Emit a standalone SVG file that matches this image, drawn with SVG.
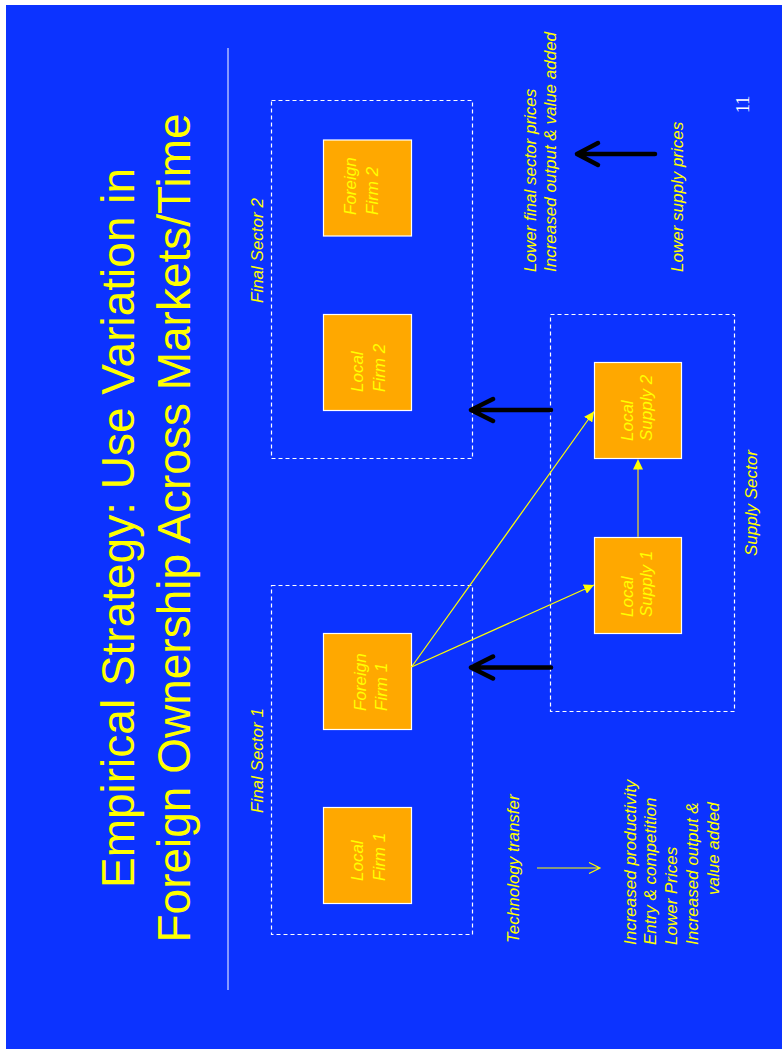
<svg xmlns="http://www.w3.org/2000/svg" width="782" height="1049" viewBox="0 0 782 1049">
<defs>
<style>
.t{font-family:"Liberation Sans",Arial,sans-serif;font-style:italic;font-size:17px;fill:#FFFF00}
.title{font-family:"Liberation Sans",Arial,sans-serif;font-size:46px;fill:#FFFF00}
.firm{fill:#FFA800;stroke:#FFFFFF;stroke-width:1.2}
.sector{fill:none;stroke:#FFFFFF;stroke-width:1.2;stroke-dasharray:4 3}
.big{fill:none;stroke:#000000;stroke-width:4.5;stroke-linecap:round;stroke-linejoin:round}
.yl{fill:none;stroke:#FFFF00;stroke-width:1.2}
</style>
<marker id="ah" viewBox="0 0 10 10" refX="10" refY="5" markerWidth="10" markerHeight="10" markerUnits="userSpaceOnUse" orient="auto">
<path d="M0,0 L10,5 L0,10 Z" fill="#FFFF00"/>
</marker>
</defs>
<rect x="0" y="0" width="782" height="1049" fill="#FFFFFF"/>
<rect x="6" y="5" width="776" height="1044" fill="#0C33FF"/>
<line x1="228" y1="48" x2="228" y2="990" stroke="#FFFFFF" stroke-width="1"/>

<g id="title">
<text class="title" text-anchor="middle" transform="translate(133.5,528) rotate(-90)">Empirical Strategy: Use Variation in</text>
<text class="title" text-anchor="middle" transform="translate(189.5,528) rotate(-90)">Foreign Ownership Across Markets/Time</text>
</g>

<g id="final-sector-2">
<rect class="sector" x="271.5" y="100.5" width="201" height="358"/>
<text class="t" transform="translate(263,303) rotate(-90)">Final Sector 2</text>
</g>
<g id="final-sector-1">
<rect class="sector" x="271.5" y="585.5" width="201" height="349"/>
<text class="t" transform="translate(263,813) rotate(-90)">Final Sector 1</text>
</g>
<g id="supply-sector">
<rect class="sector" x="550.5" y="314.5" width="184" height="397"/>
<text class="t" transform="translate(757,556) rotate(-90)">Supply Sector</text>
</g>

<g id="foreign-firm-2">
<rect class="firm" x="323.5" y="140" width="88" height="96"/>
<text class="t" transform="translate(356,215) rotate(-90)">Foreign</text>
<text class="t" transform="translate(378,215) rotate(-90)">Firm 2</text>
</g>
<g id="local-firm-2">
<rect class="firm" x="323.5" y="314.5" width="88" height="96"/>
<text class="t" transform="translate(363,392) rotate(-90)">Local</text>
<text class="t" transform="translate(385,392) rotate(-90)">Firm 2</text>
</g>
<g id="foreign-firm-1">
<rect class="firm" x="323.5" y="633.5" width="88" height="96"/>
<text class="t" transform="translate(365.5,711) rotate(-90)">Foreign</text>
<text class="t" transform="translate(386.5,711) rotate(-90)">Firm 1</text>
</g>
<g id="local-firm-1">
<rect class="firm" x="323.5" y="807.5" width="88" height="96"/>
<text class="t" transform="translate(363,881) rotate(-90)">Local</text>
<text class="t" transform="translate(385,881) rotate(-90)">Firm 1</text>
</g>
<g id="local-supply-2">
<rect class="firm" x="594.5" y="362.5" width="87" height="96"/>
<text class="t" transform="translate(633,441) rotate(-90)">Local</text>
<text class="t" transform="translate(652,441) rotate(-90)">Supply 2</text>
</g>
<g id="local-supply-1">
<rect class="firm" x="594.5" y="537.5" width="87" height="96"/>
<text class="t" transform="translate(633,617) rotate(-90)">Local</text>
<text class="t" transform="translate(652,617) rotate(-90)">Supply 1</text>
</g>

<g id="connectors">
<line class="yl" x1="411.5" y1="667" x2="594" y2="411.5" marker-end="url(#ah)"/>
<line class="yl" x1="411.5" y1="667" x2="594" y2="585" marker-end="url(#ah)"/>
<line x1="638" y1="537" x2="638" y2="468" stroke="#9A9A7A" stroke-width="2"/>
<path d="M638,459 L643,469.5 L633,469.5 Z" fill="#FFFF00"/>
<path class="big" d="M551,410 L471,410 M493,399 L471,410 L493,421"/>
<path class="big" d="M551,667.5 L471,667.5 M493,656.5 L471,667.5 L493,678.5"/>
<path class="big" d="M655,154 L577,154 M598,143 L577,154 L598,165"/>
<path class="yl" d="M537,868 L600,868 M589,862.5 L600,868 L589,873.5"/>
</g>

<g id="notes">
<text class="t" transform="translate(536,272) rotate(-90)">Lower final sector prices</text>
<text class="t" transform="translate(556,272) rotate(-90)">Increased output &amp; value added</text>
<text class="t" transform="translate(683,272) rotate(-90)">Lower supply prices</text>
<text class="t" transform="translate(519,943) rotate(-90)">Technology transfer</text>
<text class="t" transform="translate(635.5,945) rotate(-90)">Increased productivity</text>
<text class="t" transform="translate(656.2,945) rotate(-90)">Entry &amp; competition</text>
<text class="t" transform="translate(677,945) rotate(-90)">Lower Prices</text>
<text class="t" transform="translate(697.5,945) rotate(-90)">Increased output &amp;</text>
<text class="t" transform="translate(719,895) rotate(-90)">value added</text>
<text transform="translate(749,113) rotate(-90)" style="font-family:'Liberation Serif','Times New Roman',serif;font-size:18px;fill:#FFFFFF">11</text>
</g>
</svg>
